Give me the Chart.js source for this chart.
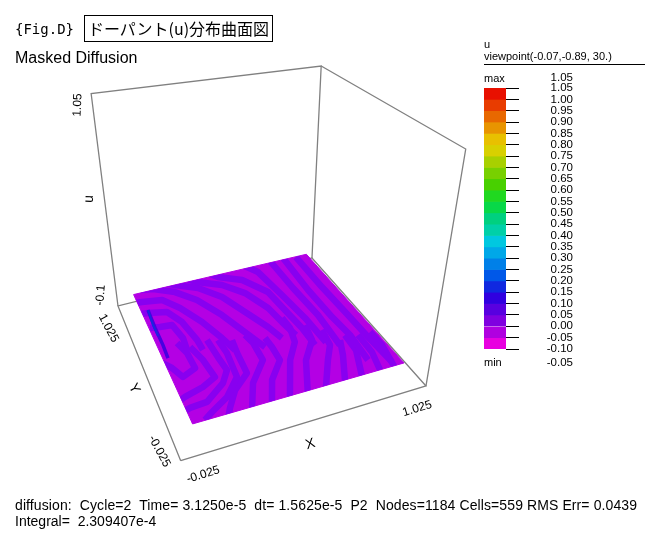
<!DOCTYPE html>
<html>
<head>
<meta charset="utf-8">
<script src="https://cdn.jsdelivr.net/npm/chart.js@4"></script>
<style>
html, body { margin: 0; padding: 0; background: #fff; overflow: hidden; }
#page { position: relative; width: 645px; height: 535px; overflow: hidden; }
canvas { position: absolute; }
.t { position: absolute; font: 11px "Liberation Sans", Arial, sans-serif; color: #000; white-space: pre; line-height: 14px; }
</style>
</head>
<body>
<div id="page">
  <canvas id="surfaceChart" width="645" height="535" style="left:0;top:0"></canvas>
  <canvas id="barChart" width="100" height="290" style="left:484px;top:78px"></canvas>
</div>
<script>
// axis ranges
var xRange = [-0.025, 1.025];
var yRange = [-0.025, 1.025];
var uRange = [-0.1, 1.05];

// legend levels, top to bottom
var levels = [1.05, 1.0, 0.95, 0.9, 0.85, 0.8, 0.75, 0.7, 0.65, 0.6, 0.55, 0.5, 0.45, 0.4, 0.35, 0.3, 0.25, 0.2, 0.15, 0.1, 0.05, 0.0, -0.05, -0.1];
var levelColors = ["#e81000", "#e83c00", "#e86800", "#e89400", "#e8c000", "#d8d000", "#a8d000", "#78d000", "#48d000", "#20d820", "#08d848", "#00d080", "#00d0a8", "#00c8e0", "#00a8e8", "#0080e8", "#0058e8", "#1028e0", "#3000e0", "#5800e0", "#8000e0", "#b000e0", "#e800e0"];

// mesh outline, at u = 0
var meshOutline = [[0.049, 0.044], [0.955, 0.044], [0.951, 0.945], [0.046, 0.955]];

// the band of u just above 0, traced as x,y runs
var bandRuns = [
  [0.892,0.943, 0.893,0.655, 0.901,0.415, 0.905,0.245, 0.914,0.067],
  [0.829,0.961, 0.823,0.659, 0.830,0.429, 0.842,0.287, 0.831,0.115],
  [0.758,0.962, 0.765,0.702, 0.779,0.467, 0.771,0.244],
  [0.604,1.010, 0.665,0.894, 0.694,0.671, 0.717,0.470, 0.726,0.284],
  [0.424,1.000, 0.469,0.933, 0.568,0.861, 0.644,0.719, 0.659,0.559, 0.674,0.410, 0.675,0.284],
  [0.296,1.008, 0.360,0.933, 0.464,0.860, 0.541,0.754, 0.595,0.603, 0.611,0.483, 0.629,0.376],
  [0.193,1.006, 0.253,0.952, 0.349,0.883, 0.430,0.767, 0.487,0.616, 0.540,0.474, 0.565,0.381],
  [0.084,0.980, 0.145,0.962, 0.236,0.895, 0.313,0.792, 0.382,0.636, 0.433,0.481, 0.475,0.353],
  [0.035,0.885, 0.068,0.880, 0.161,0.857, 0.221,0.763, 0.282,0.623, 0.326,0.481, 0.350,0.384],
  [0.036,0.792, 0.072,0.785, 0.156,0.757, 0.198,0.658, 0.221,0.511, 0.223,0.437],
  [0.052,0.673, 0.095,0.662, 0.150,0.655, 0.168,0.547, 0.160,0.463],
  [0.031,0.433, 0.067,0.377, 0.093,0.307, 0.156,0.340, 0.154,0.444, 0.134,0.525],
  [0.032,0.177, 0.066,0.193, 0.150,0.220, 0.214,0.257, 0.203,0.375, 0.178,0.477],
  [0.034,0.117, 0.066,0.128, 0.138,0.134, 0.232,0.211, 0.274,0.278, 0.267,0.369, 0.261,0.494],
  [0.099,0.046, 0.138,0.075, 0.220,0.130, 0.297,0.223, 0.311,0.379, 0.305,0.475],
  [0.180,0.013, 0.209,0.069, 0.263,0.155, 0.343,0.230, 0.351,0.363, 0.361,0.451],
  [0.284,0.028, 0.344,0.166, 0.434,0.279, 0.438,0.398, 0.426,0.462],
  [0.365,0.024, 0.421,0.153, 0.499,0.252, 0.502,0.342, 0.498,0.409],
  [0.440,0.023, 0.538,0.236, 0.605,0.335, 0.626,0.430, 0.623,0.510],
  [0.516,0.022, 0.598,0.211, 0.678,0.319, 0.695,0.424],
  [0.598,0.031, 0.681,0.177, 0.733,0.260, 0.747,0.364],
  [0.683,0.033, 0.752,0.181, 0.787,0.273],
  [0.761,0.039, 0.817,0.189, 0.822,0.295],
  [0.845,0.043, 0.871,0.153, 0.873,0.273],
  [0.906,0.031, 0.932,0.176, 0.930,0.272]
];

// ridge near the low-x edge
var ridgeOuter = [0.078,0.807, 0.073,0.664, 0.073,0.535, 0.069,0.444];
var ridgeInner = [0.078,0.807, 0.070,0.689, 0.070,0.604];

// camera fitted to the box in the picture
function project(x, y, z) {
  var a = (x - xRange[0]) / (xRange[1] - xRange[0]);
  var b = (y - yRange[0]) / (yRange[1] - yRange[0]);
  var c = (z - uRange[0]) / (uRange[1] - uRange[0]);
  var d = 1 + 0.0897 * a + 0.3171 * b - 0.21 * c;
  return {
    x: (180.7 + 283.5 * a - 25.3 * b - 54.5 * c) / d,
    y: (460.7 - 40.1 * a - 57.7 * b - 305.1 * c + 15.6 * a * c + 5.6 * b * c) / d
  };
}

function runPoints(run, z) {
  var pts = [];
  for (var i = 0; i < run.length; i += 2) pts.push(project(run[i], run[i + 1], z));
  return pts;
}

var x0 = xRange[0], x1 = xRange[1], y0 = yRange[0], y1 = yRange[1], z0 = uRange[0], z1 = uRange[1];
var boxBottom = [[x0,y0,z0],[x1,y0,z0],[x1,y1,z0],[x0,y1,z0],[x0,y0,z0]];
var boxBack = [[x0,y1,z0],[x0,y1,z1],[x1,y1,z1],[x1,y1,z0]];
var boxRight = [[x1,y1,z1],[x1,y0,z1],[x1,y0,z0]];

function boxLine(corners) {
  return {
    data: corners.map(function (c) { return project(c[0], c[1], c[2]); }),
    showLine: true, pointRadius: 0, borderColor: "#808080", borderWidth: 1.3, order: 5
  };
}

var meshPoints = meshOutline.map(function (p) { return project(p[0], p[1], 0); });
meshPoints.push(meshPoints[0]);

var datasets = [boxLine(boxBottom), boxLine(boxBack), boxLine(boxRight)];
datasets.push({
  data: meshPoints, showLine: true, pointRadius: 0, fill: "shape",
  backgroundColor: "#b400e4", borderColor: "#b400e4", borderWidth: 1, order: 4
});
bandRuns.forEach(function (run) {
  datasets.push({
    data: runPoints(run, 0), showLine: true, pointRadius: 0, borderColor: "#8800f0",
    borderWidth: 6.5, borderCapStyle: "butt", borderJoinStyle: "round",
    clipMesh: true, order: 3
  });
});
datasets.push({ data: runPoints(ridgeOuter, 0), showLine: true, pointRadius: 0, borderColor: "#4800e0", borderWidth: 3.5, order: 2 });
datasets.push({ data: runPoints(ridgeInner, 0), showLine: true, pointRadius: 0, borderColor: "#1828e0", borderWidth: 2, order: 1 });

// keep the bands inside the mesh
var meshClip = {
  id: "meshClip",
  beforeDatasetDraw: function (chart, args) {
    if (!chart.data.datasets[args.index].clipMesh) return;
    var ctx = chart.ctx, sx = chart.scales.x, sy = chart.scales.y;
    ctx.save();
    ctx.beginPath();
    meshPoints.forEach(function (p, i) {
      var px = sx.getPixelForValue(p.x), py = sy.getPixelForValue(p.y);
      if (i) ctx.lineTo(px, py); else ctx.moveTo(px, py);
    });
    ctx.clip();
  },
  afterDatasetDraw: function (chart, args) {
    if (chart.data.datasets[args.index].clipMesh) chart.ctx.restore();
  }
};

new Chart(document.getElementById("surfaceChart").getContext("2d"), {
  type: "scatter",
  data: { datasets: datasets },
  plugins: [meshClip],
  options: {
    responsive: false, animation: false, devicePixelRatio: 1,
    layout: { padding: 0 },
    plugins: { legend: { display: false }, tooltip: { enabled: false } },
    scales: {
      x: { type: "linear", display: false, min: 0, max: 645 },
      y: { type: "linear", display: false, min: 0, max: 535, reverse: true }
    }
  }
});

// colour legend
var bandSets = levelColors.map(function (c, i) {
  return { data: [[levels[i + 1], levels[i]]], backgroundColor: c, grouped: false, barPercentage: 1, categoryPercentage: 1 };
});
new Chart(document.getElementById("barChart").getContext("2d"), {
  type: "bar",
  data: { labels: ["u"], datasets: bandSets },
  options: {
    responsive: false, animation: false, devicePixelRatio: 1,
    layout: { padding: { top: 10, bottom: 19, left: 0, right: 11 } },
    plugins: { legend: { display: false }, tooltip: { enabled: false } },
    scales: {
      x: { display: false },
      y: {
        position: "right", min: -0.1, max: 1.05,
        afterBuildTicks: function (axis) { axis.ticks = levels.map(function (v) { return { value: v }; }); },
        afterFit: function (axis) { axis.width = 67; },
        border: { display: false },
        grid: { drawOnChartArea: false, drawTicks: true, tickLength: 13, tickColor: "#000" },
        ticks: {
          autoSkip: false, crossAlign: "far", color: "#000", padding: 0,
          font: { family: "Liberation Sans", size: 11.5 },
          callback: function (v) { return Number(v).toFixed(2); }
        }
      }
    }
  }
});

// page text and the axis labels of the box
var labels = [
  { s: "{Fig.D}", x: 15, y: 21, font: "14px 'DejaVu Sans Mono'" },
  { s: "Masked Diffusion", x: 15, y: 49, font: "16px 'Liberation Sans'" },
  { s: "u", x: 484, y: 37 },
  { s: "viewpoint(-0.07,-0.89, 30.)", x: 484, y: 49 },
  { s: "max", x: 484, y: 71 },
  { s: "1.05", x: 573, y: 71, right: true, font: "11.5px 'Liberation Sans'" },
  { s: "min", x: 484, y: 355 },
  { s: "-0.05", x: 573, y: 356, right: true, font: "11.5px 'Liberation Sans'" },
  { s: "diffusion:  Cycle=2  Time= 3.1250e-5  dt= 1.5625e-5  P2  Nodes=1184 Cells=559 RMS Err= 0.0439", x: 15, y: 497, font: "14px 'Liberation Sans'", ls: "0.1px" },
  { s: "Integral=  2.309407e-4", x: 15, y: 513, font: "14px 'Liberation Sans'" }
];
var axisLabels = [
  { s: "1.05", x: 77, y: 105, a: -88, font: "12px 'Liberation Sans'" },
  { s: "u", x: 88, y: 199, a: -88, font: "14px 'Liberation Sans'" },
  { s: "-0.1", x: 100, y: 295, a: -85, font: "12px 'Liberation Sans'" },
  { s: "1.025", x: 109, y: 328, a: 62, font: "12px 'Liberation Sans'" },
  { s: "Y", x: 135, y: 388, a: 62, font: "14px 'Liberation Sans'" },
  { s: "-0.025", x: 160, y: 451, a: 62, font: "12px 'Liberation Sans'" },
  { s: "-0.025", x: 203, y: 474, a: -17, font: "12px 'Liberation Sans'" },
  { s: "X", x: 310, y: 443, a: -17, font: "14px 'Liberation Sans'" },
  { s: "1.025", x: 417, y: 408, a: -17, font: "12px 'Liberation Sans'" }
];
var page = document.getElementById("page");
function addText(l) {
  var d = document.createElement("div");
  d.className = "t";
  d.textContent = l.s;
  if (l.font) d.style.font = l.font;
  if (l.ls) d.style.letterSpacing = l.ls;
  if (l.a !== undefined) {
    d.style.left = l.x + "px"; d.style.top = l.y + "px";
    d.style.transform = "translate(-50%,-50%) rotate(" + l.a + "deg)";
  } else if (l.right) {
    d.style.right = (645 - l.x) + "px"; d.style.top = l.y + "px";
  } else {
    d.style.left = l.x + "px"; d.style.top = l.y + "px";
  }
  page.appendChild(d);
  return d;
}
labels.forEach(addText);
axisLabels.forEach(addText);

var rule = document.createElement("div");
rule.style.cssText = "position:absolute;left:484px;top:64px;width:161px;height:1px;background:#000";
page.appendChild(rule);
var tb = addText({ s: "ドーパント(u)分布曲面図", x: 84, y: 15, font: "16px 'Noto Sans CJK JP'" });
tb.style.cssText += ";border:1px solid #000;width:187px;height:25px;line-height:25px;text-align:center";
</script>
</body>
</html>
